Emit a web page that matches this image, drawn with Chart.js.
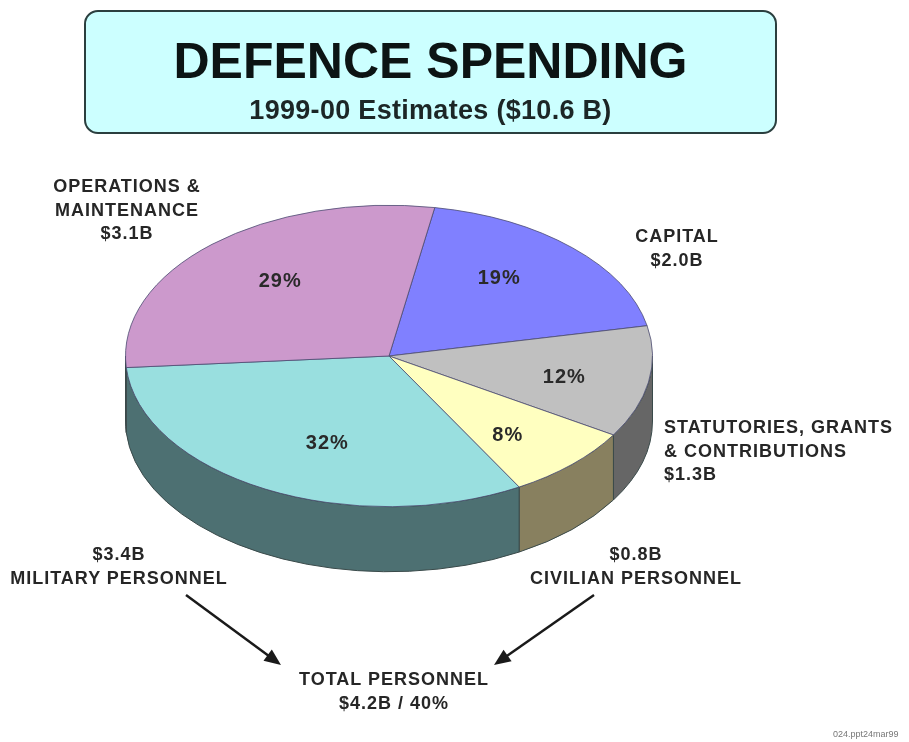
<!DOCTYPE html>
<html>
<head>
<meta charset="utf-8">
<title>Defence Spending</title>
<script src="https://cdn.jsdelivr.net/npm/chart.js@4"></script>
<style>
    html, body { margin: 0; padding: 0; background: #fff; }
    body { width: 909px; height: 742px; position: relative; overflow: hidden; font-family: "Liberation Sans", Arial, sans-serif; }
    #pie { position: absolute; left: 0; top: 0; }
    #banner {
        position: absolute; left: 84px; top: 10px; width: 689px; height: 120px;
        background: #ccffff; border: 2.5px solid #2b3f3f; border-radius: 14px;
        text-align: center; color: #0c1414;
    }
    #banner h1 { margin: 0; position: absolute; left: 0; right: 0; top: 21px; font-size: 50px; line-height: 56px; font-weight: bold; }
    #banner h2 { margin: 0; position: absolute; left: 0; right: 0; top: 82px; font-size: 27px; line-height: 32px; letter-spacing: 0.3px; font-weight: bold; color: #1c2626; }
    .note { position: absolute; font-size: 18px; letter-spacing: 1px; line-height: 23.5px; font-weight: bold; color: #262626; white-space: pre; text-align: center; transform: translateX(-50%); }
    .note.left { text-align: left; transform: none; }
    #stamp { position: absolute; left: 833px; top: 729px; font-size: 9px; color: #777; white-space: nowrap; }
</style>
</head>
<body>
<canvas id="pie" width="909" height="742"></canvas>
<div id="banner">
    <h1>DEFENCE SPENDING</h1>
    <h2>1999-00 Estimates ($10.6 B)</h2>
</div>
<div class="note" style="left:127px;top:175px">OPERATIONS &amp;
MAINTENANCE
$3.1B</div>
<div class="note" style="left:677px;top:225px">CAPITAL
$2.0B</div>
<div class="note left" style="left:664px;top:416px">STATUTORIES, GRANTS
&amp; CONTRIBUTIONS
$1.3B</div>
<div class="note" style="left:119px;top:543px">$3.4B
MILITARY PERSONNEL</div>
<div class="note" style="left:636px;top:543px">$0.8B
CIVILIAN PERSONNEL</div>
<div class="note" style="left:394px;top:668px">TOTAL PERSONNEL
$4.2B / 40%</div>
<div id="stamp">024.ppt24mar99</div>

<script>
const categories = ['Capital', 'Statutories, Grants & Contributions', 'Civilian Personnel', 'Military Personnel', 'Operations & Maintenance'];
const shares = [19, 12, 8, 32, 29];
const topColors = ['#8080ff', '#c0c0c0', '#ffffc0', '#99dfdf', '#cc99cc'];
const sideColors = ['#404080', '#666666', '#88805f', '#4d7072', '#664d66'];

const squash = 0.572;   // flattens the round pie into a tilted disc
const depth = 65;       // height of the disc wall
const labelNudge = [[-11, -6], [4, 4], [-2, 8], [20, 0], [8, -1]];
const arrows = [
    [186, 595, 281, 665],
    [594, 595, 494, 665]
];

// wall of the disc, only the part of each slice facing the viewer
function drawWall(ctx, arc, fill) {
    const start = Math.atan2(Math.sin(arc.startAngle), Math.cos(arc.startAngle));
    let from = start;
    let to = start + (arc.endAngle - arc.startAngle);
    if (from < 0 && to > 0) from = 0;
    if (from < 0) return;
    if (from >= Math.PI) return;
    to = Math.min(to, Math.PI);

    const rx = arc.outerRadius;
    const ry = rx * squash;
    ctx.beginPath();
    ctx.ellipse(arc.x, arc.y, rx, ry, 0, from, to);
    ctx.ellipse(arc.x, arc.y + depth, rx, ry, 0, to, from, true);
    ctx.closePath();
    ctx.fillStyle = fill;
    ctx.fill();
    ctx.strokeStyle = '#3a4a4a';
    ctx.lineWidth = 1;
    ctx.stroke();
}

const tiltedDisc = {
    id: 'tiltedDisc',
    beforeDatasetsDraw(chart) {
        const ctx = chart.ctx;
        const arcs = chart.getDatasetMeta(0).data;
        arcs.forEach((arc, i) => drawWall(ctx, arc, sideColors[i]));
        ctx.save();
        ctx.translate(arcs[0].x, arcs[0].y);
        ctx.scale(1, squash);
        ctx.translate(-arcs[0].x, -arcs[0].y);
    },
    afterDatasetsDraw(chart) {
        const ctx = chart.ctx;
        ctx.restore();

        // percent labels inside the slices
        ctx.save();
        ctx.font = 'bold 20px "Liberation Sans", Arial, sans-serif';
        ctx.letterSpacing = '1px';
        ctx.fillStyle = '#2a2a2a';
        ctx.textAlign = 'center';
        ctx.textBaseline = 'middle';
        chart.getDatasetMeta(0).data.forEach((arc, i) => {
            const mid = (arc.startAngle + arc.endAngle) / 2;
            const r = arc.outerRadius * 0.66;
            ctx.fillText(shares[i] + '%', arc.x + Math.cos(mid) * r + labelNudge[i][0], arc.y + Math.sin(mid) * r * squash + labelNudge[i][1]);
        });
        ctx.restore();

        // arrows down to the personnel total
        ctx.strokeStyle = '#1a1a1a';
        ctx.fillStyle = '#1a1a1a';
        ctx.lineWidth = 2.5;
        arrows.forEach(([x1, y1, x2, y2]) => {
            const a = Math.atan2(y2 - y1, x2 - x1);
            ctx.beginPath();
            ctx.moveTo(x1, y1);
            ctx.lineTo(x2 - Math.cos(a) * 10, y2 - Math.sin(a) * 10);
            ctx.stroke();
            ctx.beginPath();
            ctx.moveTo(x2, y2);
            ctx.lineTo(x2 - Math.cos(a - 0.4) * 18, y2 - Math.sin(a - 0.4) * 18);
            ctx.lineTo(x2 - Math.cos(a + 0.4) * 18, y2 - Math.sin(a + 0.4) * 18);
            ctx.closePath();
            ctx.fill();
        });
    }
};

new Chart(document.getElementById('pie').getContext('2d'), {
    type: 'pie',
    data: {
        labels: categories,
        datasets: [{
            data: shares,
            backgroundColor: topColors,
            borderColor: '#4a4a70',
            borderWidth: 1
        }]
    },
    options: {
        responsive: false,
        animation: false,
        rotation: 10,
        layout: { padding: { left: 125, right: 256, top: 92, bottom: 122 } },
        plugins: {
            legend: { display: false },
            tooltip: { enabled: false }
        }
    },
    plugins: [tiltedDisc]
});
</script>
</body>
</html>
